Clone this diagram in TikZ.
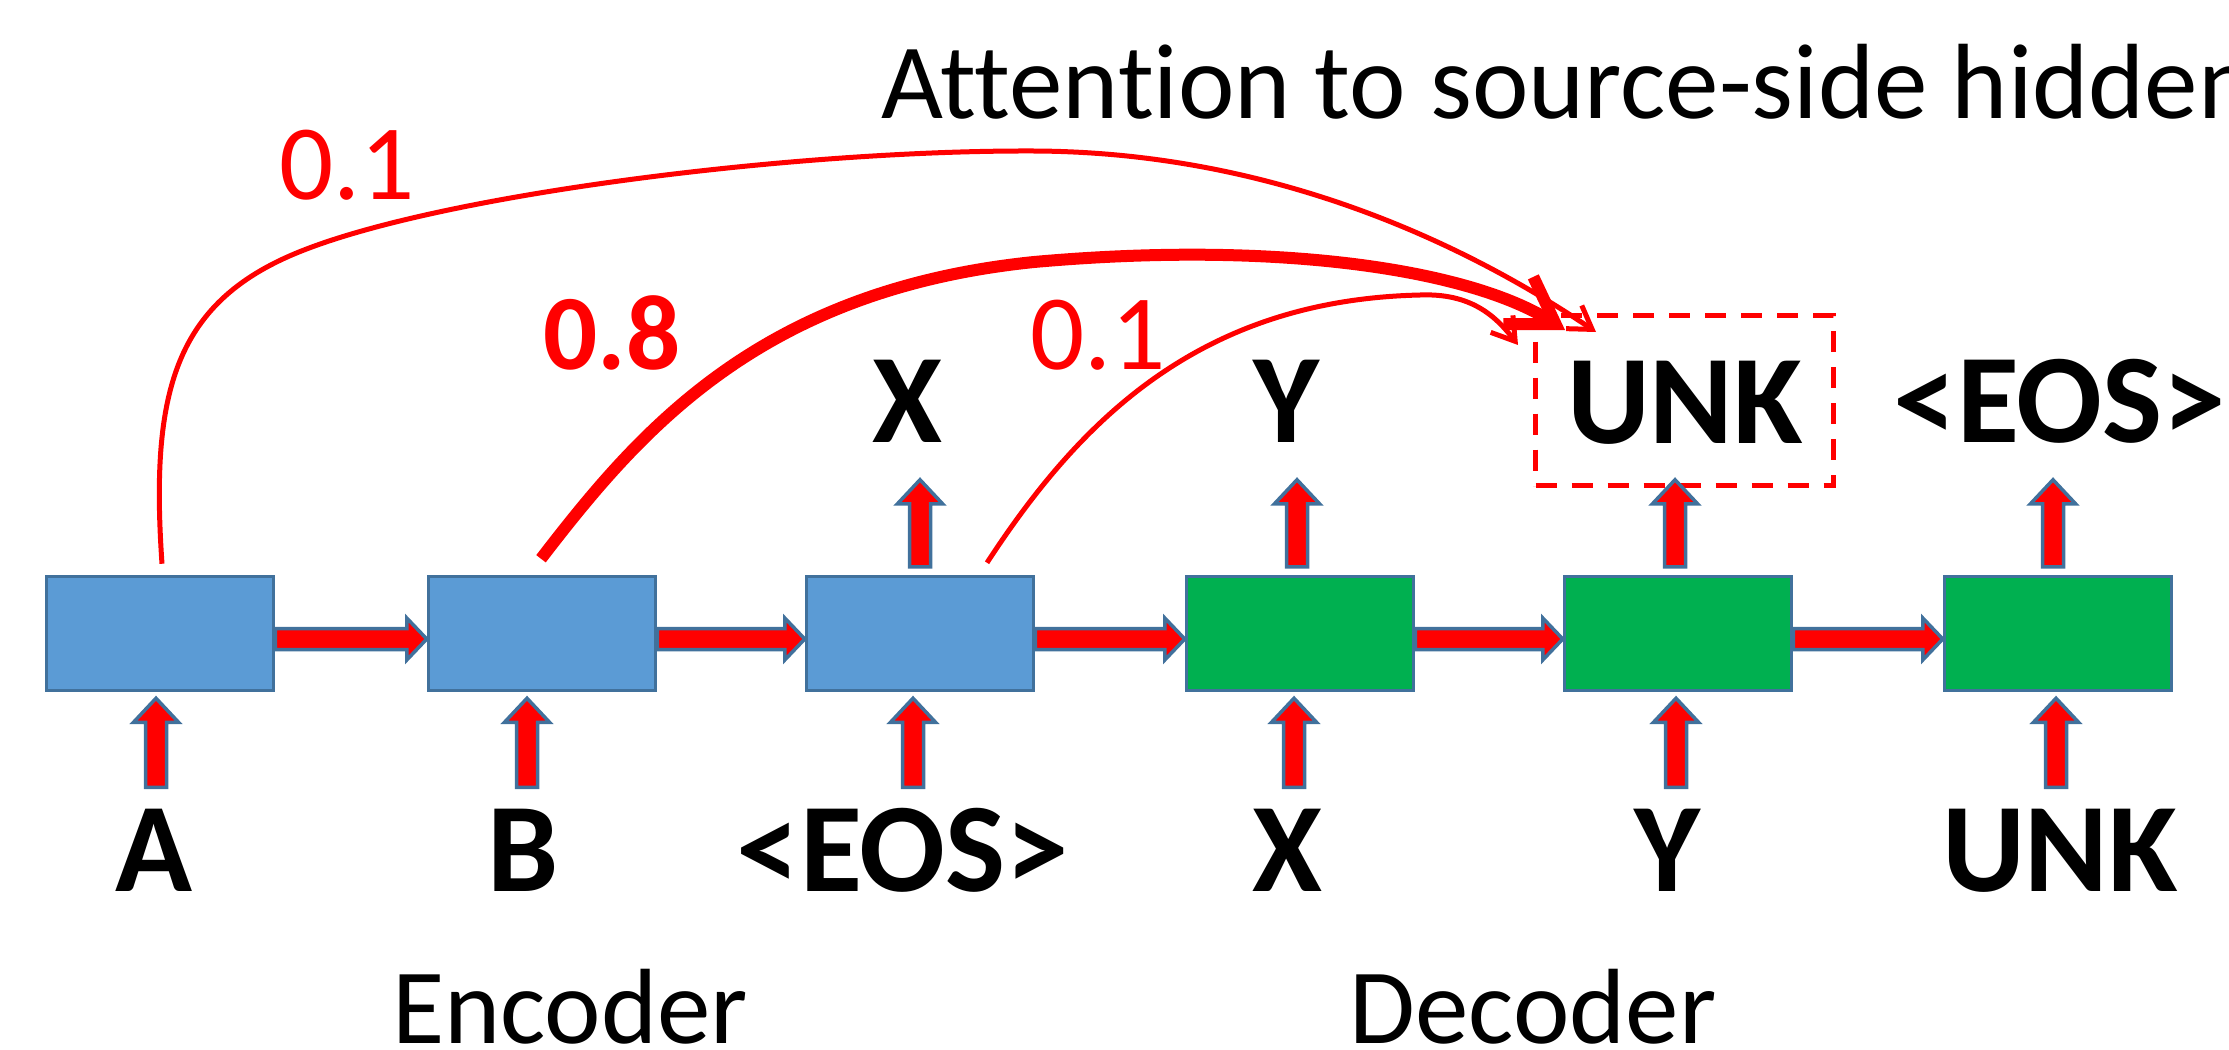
\documentclass[tikz,border=0pt]{standalone}
\usepackage{fontspec}
\setmainfont{Carlito}[Ligatures=NoCommon]
\usetikzlibrary{arrows.meta,calc}
\definecolor{encblue}{HTML}{5B9BD5}
\definecolor{decgreen}{HTML}{00B050}
\definecolor{edgeblue}{HTML}{41719C}
\definecolor{attred}{HTML}{FF0000}
\tikzset{
 cell/.style={draw=edgeblue, line width=3.5pt, minimum width=227pt, minimum height=114pt, inner sep=0pt},
 enc/.style={cell, fill=encblue},
 dec/.style={cell, fill=decgreen},
 tok/.style={inner sep=0pt, anchor=base, font=\fontsize{127}{127}\selectfont\bfseries},
 captext/.style={inner sep=0pt, anchor=base, font=\fontsize{107}{107}\selectfont},
 weight/.style={inner sep=0pt, anchor=base, text=attred, font=\fontsize{107}{107}\selectfont},
 blockarr/.style={fill=attred, draw=edgeblue, line width=3.5pt, line join=miter},
 attn/.style={draw=attred, line width=5pt, -{Straight Barb[length=22pt,width=28pt]}},
 attnthick/.style={draw=attred, line width=12pt, -{Straight Barb[length=44pt,width=56pt]}},
 focus/.style={draw=attred, line width=5pt, dash pattern=on 21pt off 15pt, minimum width=298pt, minimum height=170pt, inner sep=0pt},
}
% horizontal block arrow from #1 to #2
\newcommand\hblock[2]{\draw[blockarr] let \p1=(#1.east), \p2=(#2.west) in
 (\x1,\y1+5pt) -- (\x2-20pt,\y1+5pt) -- (\x2-20pt,\y1+15.5pt) -- (\x2,\y1-5.5pt) --
 (\x2-20pt,\y1-26.5pt) -- (\x2-20pt,\y1-16pt) -- (\x1,\y1-16pt) -- cycle;}
% block arrow from input label #1 up into box #2, x offset #3
\newcommand\upin[3]{\draw[blockarr] let \p1=($(#2.south)+(#3,0)$), \p2=(#1.north) in
 (\x1-10.5pt,\y1-95pt) -- (\x1-10.5pt,\y1-30pt) -- (\x1-22.5pt,\y1-30pt) --
 (\x1,\y1-6pt) -- (\x1+22.5pt,\y1-30pt) -- (\x1+10.5pt,\y1-30pt) --
 (\x1+10.5pt,\y1-95pt) -- cycle;}
% block arrow from box #1 up to output label #2, x offset #3
\newcommand\upout[3]{\draw[blockarr] let \p1=($(#1.north)+(#3,0)$), \p2=(#2.south) in
 (\x1-10.5pt,\y1+8pt) -- (\x1-10.5pt,\y1+71pt) -- (\x1-22.5pt,\y1+71pt) --
 (\x1,\y1+95pt) -- (\x1+22.5pt,\y1+71pt) -- (\x1+10.5pt,\y1+71pt) --
 (\x1+10.5pt,\y1+8pt) -- cycle;}
\begin{document}
\begin{tikzpicture}[x=1pt,y=-1pt]
\useasboundingbox (0,0) rectangle (2229,1049);
\clip (0,0) rectangle (2229,1049);
% cells
\node[enc] (b1) at (160,633.5) {};
\node[enc] (b2) at (542,633.5) {};
\node[enc] (b3) at (920,633.5) {};
\node[dec] (b4) at (1300,633.5) {};
\node[dec] (b5) at (1678,633.5) {};
\node[dec] (b6) at (2058,633.5) {};
% input tokens
\node[tok] (inA) at (154,891) {A};
\node[tok] (inB) at (523,891) {B};
\node[tok] (inE) at (903,891) {<EOS>};
\node[tok] (inX) at (1287,891) {X};
\node[tok] (inY) at (1667,891) {Y};
\node[tok] (inU) at (2060,891) {UNK};
% output tokens
\node[tok] (outX) at (907,442) {X};
\node[tok] (outY) at (1286,442) {Y};
\node[tok] (outU) at (1685,443) {UNK};
\node[tok] (outE) at (2060,442) {<EOS>};
% attention focus box
\node[focus] (att) at (1684.5,400.5) {};
% recurrent arrows
\hblock{b1}{b2}
\hblock{b2}{b3}
\hblock{b3}{b4}
\hblock{b4}{b5}
\hblock{b5}{b6}
% input arrows
\upin{inA}{b1}{-4}
\upin{inB}{b2}{-15}
\upin{inE}{b3}{-7}
\upin{inX}{b4}{-6}
\upin{inY}{b5}{-2}
\upin{inU}{b6}{-2}
% output arrows
\upout{b3}{outX}{0}
\upout{b4}{outY}{-3}
\upout{b5}{outU}{-3}
\upout{b6}{outE}{-5}
% attention curves
\draw[attn] ($(b1.north)+(2,-11)$) .. controls (150,390) and (175,300) .. (304,250)
  .. controls (450,193) and (800,150) .. (1034,151)
  .. controls (1268,152) and (1460,240) .. ($(att.north west)+(63,19)$);
\draw[attnthick] ($(b2.north)+(-1,-16)$) .. controls (640,430) and (760,290) .. (1034,262)
  .. controls (1280,240) and (1470,270) .. ($(att.north west)+(32,17)$);
\draw[attn] ($(b3.north)+(67,-12)$) .. controls (1080,420) and (1200,300) .. (1420,295)
  .. controls (1470,293) and (1495,315) .. ($(att.north west)+(-15,32)$);
% weights
\node[weight] (w1) at (347,199) {0.1};
\node[weight, font=\fontsize{107}{107}\selectfont\bfseries] (w2) at (612,369) {0.8};
\node[weight] (w3) at (1098,369) {0.1};
% captions
\node[captext, anchor=base west] (title) at (881,118) {Attention to source-side hidden};
\node[captext] (encl) at (570,1043) {Encoder};
\node[captext] (decl) at (1533,1043) {Decoder};
\end{tikzpicture}
\end{document}
